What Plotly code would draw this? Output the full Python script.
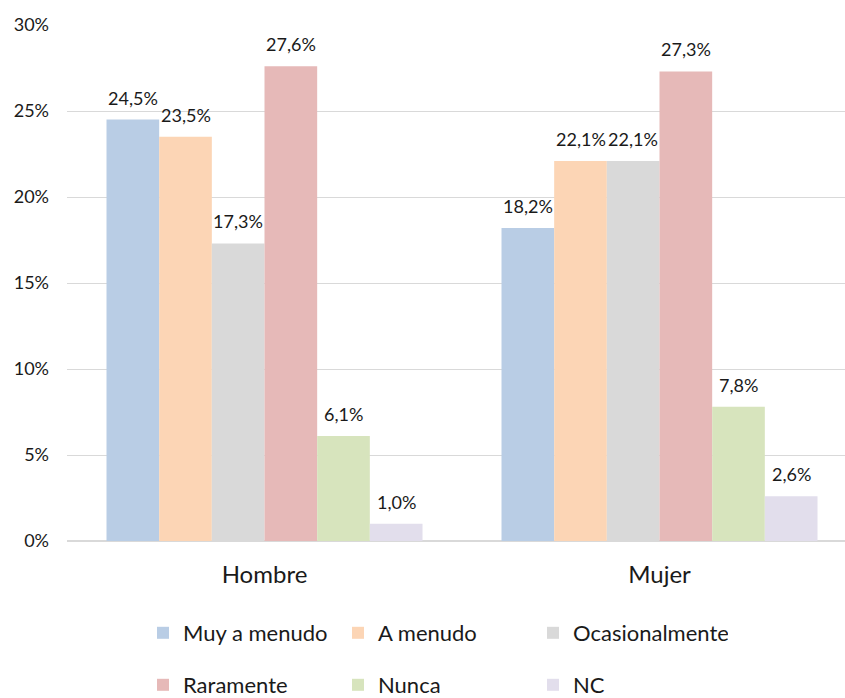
import plotly.graph_objects as go

categories = ["Hombre", "Mujer"]
series_names = ["Muy a menudo", "A menudo", "Ocasionalmente", "Raramente", "Nunca", "NC"]
muy_a_menudo = [24.5, 18.2]
a_menudo = [23.5, 22.1]
ocasionalmente = [17.3, 22.1]
raramente = [27.6, 27.3]
nunca = [6.1, 7.8]
nc = [1.0, 2.6]
y_tick_vals = [0, 5, 10, 15, 20, 25, 30]
y_tick_text = ["0%", "5%", "10%", "15%", "20%", "25%", "30%"]

values = [muy_a_menudo, a_menudo, ocasionalmente, raramente, nunca, nc]
colors = ["#B9CDE5", "#FCD5B5", "#D9D9D9", "#E6B9B8", "#D7E4BD", "#E2DEEC"]

FONT = "Lato, 'Open Sans', sans-serif"
TXT = "#1a1a1a"

W, H = 845, 698
left, top, bottom = 67, 25, 541
cat_px = 395.0
bargap = 0.2
n = len(series_names)
bar_px = cat_px * (1 - bargap) / n

fig = go.Figure()
annotations = []
for i, (name, vals, col) in enumerate(zip(series_names, values, colors)):
    fig.add_trace(go.Bar(
        name=name, x=categories, y=vals,
        marker=dict(color=col, line=dict(width=0)),
        legend="legend" if i < 3 else "legend2",
        hovertemplate="%{x}: %{y:.1f}%<extra>" + name + "</extra>",
    ))
    for cat, v in zip(categories, vals):
        annotations.append(dict(
            x=cat, y=v, xref="x", yref="y",
            text=f"{v:.1f}".replace(".", ",") + "%",
            showarrow=False, xanchor="center", yanchor="bottom",
            xshift=(i - (n - 1) / 2) * bar_px, yshift=9,
            font=dict(size=18, color=TXT, family=FONT),
        ))

fig.update_layout(
    width=W, height=H,
    margin=dict(l=left, r=0, t=top, b=H - bottom, autoexpand=False),
    paper_bgcolor="white", plot_bgcolor="white",
    separators=",.",
    barmode="group", bargap=bargap, bargroupgap=0,
    font=dict(family=FONT, color=TXT),
    annotations=annotations,
    xaxis=dict(range=[-0.5, -0.5 + (W - left) / cat_px], showgrid=False,
               showline=False, zeroline=False, ticks="",
               tickfont=dict(size=24, color=TXT), ticklabelstandoff=17),
    yaxis=dict(range=[0, 30], tickmode="array", tickvals=y_tick_vals,
               ticktext=y_tick_text,
               showgrid=True, gridcolor="#D9D9D9", gridwidth=1,
               zeroline=True, zerolinecolor="#D9D9D9", zerolinewidth=1.5,
               showline=False, ticks="",
               tickfont=dict(size=18, color=TXT), ticklabelstandoff=17),
    legend=dict(orientation="h", xref="container", yref="container",
                x=143 / W, y=1 - 633 / H, xanchor="left", yanchor="middle",
                entrywidth=150, entrywidthmode="pixels",
                font=dict(size=22, color=TXT), traceorder="normal",
                bgcolor="rgba(0,0,0,0)"),
    legend2=dict(orientation="h", xref="container", yref="container",
                 x=143 / W, y=1 - 685 / H, xanchor="left", yanchor="middle",
                 entrywidth=150, entrywidthmode="pixels",
                 font=dict(size=22, color=TXT), traceorder="normal",
                 bgcolor="rgba(0,0,0,0)"),
)

fig.write_html("out.html", config={"displayModeBar": False},
               post_script="document.body.style.margin='0';document.body.style.overflow='hidden';")
